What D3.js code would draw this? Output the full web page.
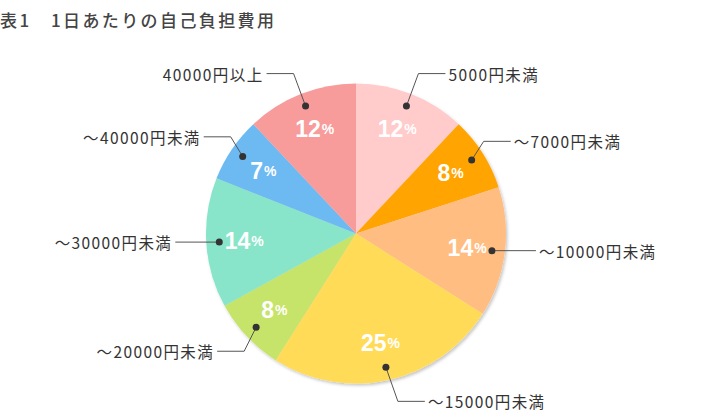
<!DOCTYPE html>
<html>
<head>
<meta charset="utf-8">
<script src="https://cdn.jsdelivr.net/npm/d3@7"></script>
<style>
  html, body { margin: 0; padding: 0; background: #fff; }
  svg { display: block; }
</style>
</head>
<body>
<svg id="chart"></svg>
<script>
// 1日あたりの自己負担費用
const categories = [
  "5000円未満",
  "～7000円未満",
  "～10000円未満",
  "～15000円未満",
  "～20000円未満",
  "～30000円未満",
  "～40000円未満",
  "40000円以上",
];
const values = [12, 8, 14, 25, 8, 14, 7, 12];
const colors = [
  "#ffcbcb", "#ffa402", "#ffbd82", "#ffdb59",
  "#c6e36b", "#88e5c9", "#6db9f2", "#f79b9b",
];

const width = 720;
const height = 420;
const cx = 356;
const cy = 233.5;
const radius = 150;

const svg = d3.select("#chart").attr("width", width).attr("height", height);

// title
svg.append("text")
  .attr("x", 0)
  .attr("y", 27)
  .attr("font-family", "'Noto Sans CJK JP', sans-serif")
  .attr("font-size", 17)
  .attr("font-weight", 500)
  .attr("letter-spacing", 2.4)
  .attr("fill", "#444")
  .text("表1\u30001日あたりの自己負担費用");

const defs = svg.append("defs");
const shadow = defs.append("filter").attr("id", "shadow")
  .attr("x", "-10%").attr("y", "-10%").attr("width", "120%").attr("height", "120%");
shadow.append("feDropShadow")
  .attr("dx", 1.5).attr("dy", 2)
  .attr("stdDeviation", 1.5)
  .attr("flood-color", "#000")
  .attr("flood-opacity", 0.22);

const pie = d3.pie().sort(null).value(d => d);
const arcs = pie(values);

const arc = d3.arc().innerRadius(0).outerRadius(radius);
const labelArc = d3.arc().innerRadius(112).outerRadius(112);
const dotArc = d3.arc().innerRadius(137).outerRadius(137);

const g = svg.append("g").attr("transform", `translate(${cx},${cy})`);

g.append("g")
  .attr("filter", "url(#shadow)")
  .selectAll("path")
  .data(arcs)
  .join("path")
  .attr("d", arc)
  .attr("fill", (d, i) => colors[i]);

// percent labels
const pct = g.append("g")
  .selectAll("text")
  .data(arcs)
  .join("text")
  .attr("transform", d => `translate(${labelArc.centroid(d)})`)
  .attr("text-anchor", "middle")
  .attr("dominant-baseline", "central")
  .attr("font-family", "'Liberation Sans', Arial, sans-serif")
  .attr("font-weight", "bold")
  .attr("fill", "#fff");
pct.append("tspan").attr("font-size", 23).text(d => d.data);
pct.append("tspan").attr("font-size", 14).attr("dx", 1).text("%");

// leader lines
const mid = d => (d.startAngle + d.endAngle) / 2;
const leaders = arcs.map((d, i) => {
  const a = mid(d);
  const [dx, dy] = dotArc.centroid(d);
  const side = Math.sin(a) >= 0 ? 1 : -1;
  const flat = Math.abs(Math.cos(a)) < 0.2;
  const ex = flat ? dx : dx + side * 12;
  const ey = flat ? dy : -172 * Math.cos(a);
  const lx = ex + side * (flat ? 44 : 27);
  return { i, dx, dy, ex, ey, lx, side };
});

const lead = g.append("g");
lead.selectAll("polyline")
  .data(leaders)
  .join("polyline")
  .attr("points", d => `${d.dx},${d.dy} ${d.ex},${d.ey} ${d.lx},${d.ey}`)
  .attr("fill", "none")
  .attr("stroke", "#555")
  .attr("stroke-width", 1);

lead.selectAll("circle")
  .data(leaders)
  .join("circle")
  .attr("cx", d => d.dx)
  .attr("cy", d => d.dy)
  .attr("r", 3.5)
  .attr("fill", "#333");

lead.selectAll("text")
  .data(leaders)
  .join("text")
  .attr("x", d => d.lx + d.side * 3)
  .attr("y", d => d.ey)
  .attr("text-anchor", d => (d.side > 0 ? "start" : "end"))
  .attr("dominant-baseline", "central")
  .attr("font-family", "'Noto Sans CJK JP', sans-serif")
  .attr("font-size", 15.5)
  .attr("letter-spacing", 1.4)
  .attr("fill", "#333")
  .text(d => categories[d.i]);
</script>
</body>
</html>
